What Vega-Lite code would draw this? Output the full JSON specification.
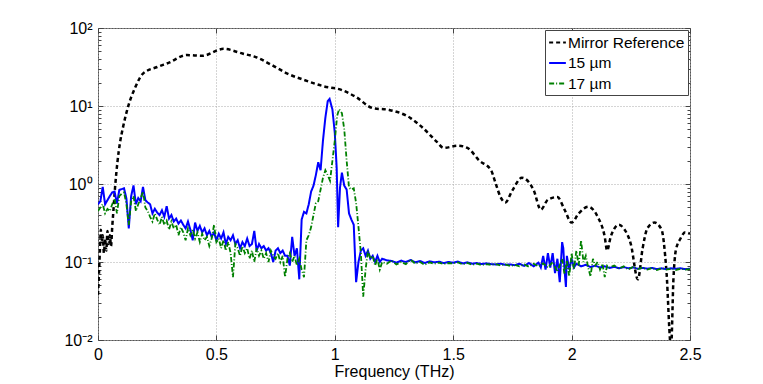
{
  "$schema": "https://vega.github.io/schema/vega-lite/v6.json",
  "width": 592,
  "height": 312,
  "autosize": {"type": "none"},
  "padding": {"left": 98, "top": 28, "right": 73, "bottom": 44},
  "background": "white",
  "config": {
    "font": "Liberation Sans",
    "view": {"stroke": "#555555", "strokeWidth": 1},
    "axis": {"labelFontSize": 16, "titleFontSize": 16, "labelColor": "black", "titleColor": "black", "titleFontWeight": "normal", "domain": false, "tickColor": "#444444", "labelFont": "Liberation Sans", "titleFont": "Liberation Sans"},
    "legend": {"labelFont": "Liberation Sans"}
  },
  "datasets": {
    "mirror": [
      {"f":0.000,"v":0.038},{"f":0.004,"v":0.07},{"f":0.008,"v":0.14},{"f":0.012,"v":0.26},{"f":0.016,"v":0.18},{"f":0.020,"v":0.22},{"f":0.025,"v":0.13},{"f":0.030,"v":0.20},{"f":0.035,"v":0.14},{"f":0.040,"v":0.25},{"f":0.045,"v":0.17},{"f":0.050,"v":0.22},{"f":0.055,"v":0.16},{"f":0.060,"v":0.28},{"f":0.065,"v":0.45},{"f":0.072,"v":0.9},{"f":0.082,"v":1.9},{"f":0.093,"v":3.4},{"f":0.106,"v":5.4},{"f":0.127,"v":9.8},{"f":0.156,"v":17},{"f":0.19,"v":26},{"f":0.25,"v":31.6},{"f":0.30,"v":36},{"f":0.375,"v":45},{"f":0.44,"v":44},{"f":0.53,"v":54},{"f":0.61,"v":47},{"f":0.67,"v":42},{"f":0.73,"v":34},{"f":0.80,"v":26},{"f":0.87,"v":21.6},{"f":0.95,"v":18},{"f":1.03,"v":16},{"f":1.09,"v":13},{"f":1.16,"v":9.4},{"f":1.23,"v":8.9},{"f":1.32,"v":7},{"f":1.37,"v":5.3},{"f":1.43,"v":3.5},{"f":1.46,"v":2.9},{"f":1.52,"v":3.1},{"f":1.56,"v":2.9},{"f":1.61,"v":2.0},{"f":1.66,"v":1.5},{"f":1.68,"v":1.0},{"f":1.70,"v":0.68},{"f":1.72,"v":0.58},{"f":1.75,"v":0.83},{"f":1.79,"v":1.2},{"f":1.84,"v":0.83},{"f":1.87,"v":0.47},{"f":1.90,"v":0.63},{"f":1.94,"v":0.68},{"f":1.97,"v":0.47},{"f":2.00,"v":0.32},{"f":2.03,"v":0.42},{"f":2.07,"v":0.51},{"f":2.11,"v":0.38},{"f":2.14,"v":0.21},{"f":2.15,"v":0.14},{"f":2.165,"v":0.21},{"f":2.20,"v":0.30},{"f":2.22,"v":0.27},{"f":2.25,"v":0.17},{"f":2.28,"v":0.06},{"f":2.30,"v":0.15},{"f":2.32,"v":0.27},{"f":2.35,"v":0.32},{"f":2.38,"v":0.26},{"f":2.40,"v":0.08},{"f":2.42,"v":0.008},{"f":2.43,"v":0.06},{"f":2.44,"v":0.14},{"f":2.46,"v":0.20},{"f":2.48,"v":0.24},{"f":2.50,"v":0.23}
    ],
    "b15": [
      {"f":0.00,"v":0.55},{"f":0.01,"v":0.60},{"f":0.02,"v":0.92},{"f":0.03,"v":0.55},{"f":0.04,"v":0.62},{"f":0.05,"v":0.70},{"f":0.06,"v":0.78},{"f":0.07,"v":0.80},{"f":0.08,"v":0.56},{"f":0.09,"v":0.84},{"f":0.10,"v":0.86},{"f":0.11,"v":0.88},{"f":0.12,"v":0.65},{"f":0.13,"v":0.27},{"f":0.14,"v":0.70},{"f":0.15,"v":0.96},{"f":0.16,"v":0.55},{"f":0.17,"v":0.66},{"f":0.18,"v":0.60},{"f":0.19,"v":0.92},{"f":0.20,"v":0.62},{"f":0.21,"v":0.58},{"f":0.22,"v":0.55},{"f":0.23,"v":0.42},{"f":0.24,"v":0.48},{"f":0.25,"v":0.43},{"f":0.26,"v":0.40},{"f":0.27,"v":0.46},{"f":0.28,"v":0.38},{"f":0.29,"v":0.52},{"f":0.30,"v":0.36},{"f":0.31,"v":0.40},{"f":0.32,"v":0.33},{"f":0.33,"v":0.36},{"f":0.34,"v":0.31},{"f":0.35,"v":0.34},{"f":0.36,"v":0.30},{"f":0.37,"v":0.27},{"f":0.38,"v":0.33},{"f":0.39,"v":0.26},{"f":0.40,"v":0.19},{"f":0.41,"v":0.32},{"f":0.42,"v":0.25},{"f":0.43,"v":0.29},{"f":0.44,"v":0.24},{"f":0.45,"v":0.27},{"f":0.46,"v":0.22},{"f":0.47,"v":0.25},{"f":0.48,"v":0.21},{"f":0.49,"v":0.24},{"f":0.50,"v":0.19},{"f":0.51,"v":0.23},{"f":0.52,"v":0.20},{"f":0.53,"v":0.24},{"f":0.54,"v":0.17},{"f":0.55,"v":0.21},{"f":0.56,"v":0.19},{"f":0.57,"v":0.22},{"f":0.58,"v":0.17},{"f":0.59,"v":0.19},{"f":0.60,"v":0.15},{"f":0.61,"v":0.18},{"f":0.62,"v":0.16},{"f":0.63,"v":0.20},{"f":0.64,"v":0.16},{"f":0.65,"v":0.17},{"f":0.66,"v":0.25},{"f":0.67,"v":0.14},{"f":0.68,"v":0.17},{"f":0.69,"v":0.15},{"f":0.70,"v":0.16},{"f":0.71,"v":0.14},{"f":0.72,"v":0.15},{"f":0.73,"v":0.13},{"f":0.74,"v":0.10},{"f":0.75,"v":0.14},{"f":0.76,"v":0.15},{"f":0.77,"v":0.13},{"f":0.78,"v":0.14},{"f":0.79,"v":0.12},{"f":0.80,"v":0.12},{"f":0.81,"v":0.09},{"f":0.82,"v":0.21},{"f":0.83,"v":0.12},{"f":0.84,"v":0.15},{"f":0.85,"v":0.06},{"f":0.86,"v":0.35},{"f":0.87,"v":0.44},{"f":0.88,"v":0.42},{"f":0.89,"v":0.55},{"f":0.90,"v":0.80},{"f":0.91,"v":0.95},{"f":0.92,"v":1.3},{"f":0.93,"v":1.9},{"f":0.94,"v":1.5},{"f":0.95,"v":3.6},{"f":0.96,"v":7.0},{"f":0.97,"v":11.5},{"f":0.978,"v":12.3},{"f":0.99,"v":9.0},{"f":1.00,"v":4.5},{"f":1.008,"v":1.6},{"f":1.014,"v":0.28},{"f":1.022,"v":0.9},{"f":1.03,"v":1.4},{"f":1.04,"v":0.95},{"f":1.05,"v":0.85},{"f":1.06,"v":0.42},{"f":1.07,"v":0.35},{"f":1.08,"v":0.30},{"f":1.09,"v":0.055},{"f":1.10,"v":0.10},{"f":1.11,"v":0.14},{"f":1.12,"v":0.15},{"f":1.13,"v":0.12},{"f":1.14,"v":0.14},{"f":1.15,"v":0.11},{"f":1.16,"v":0.12},{"f":1.17,"v":0.10},{"f":1.18,"v":0.12},{"f":1.19,"v":0.10},{"f":1.20,"v":0.11},{"f":1.22,"v":0.105},{"f":1.24,"v":0.103},{"f":1.26,"v":0.098},{"f":1.28,"v":0.104},{"f":1.30,"v":0.100},{"f":1.32,"v":0.106},{"f":1.34,"v":0.099},{"f":1.36,"v":0.103},{"f":1.38,"v":0.097},{"f":1.40,"v":0.102},{"f":1.42,"v":0.099},{"f":1.44,"v":0.101},{"f":1.46,"v":0.097},{"f":1.48,"v":0.100},{"f":1.50,"v":0.098},{"f":1.52,"v":0.101},{"f":1.54,"v":0.096},{"f":1.56,"v":0.099},{"f":1.58,"v":0.095},{"f":1.60,"v":0.097},{"f":1.62,"v":0.094},{"f":1.64,"v":0.096},{"f":1.66,"v":0.094},{"f":1.68,"v":0.093},{"f":1.70,"v":0.095},{"f":1.72,"v":0.092},{"f":1.74,"v":0.093},{"f":1.76,"v":0.091},{"f":1.78,"v":0.095},{"f":1.80,"v":0.089},{"f":1.82,"v":0.097},{"f":1.84,"v":0.088},{"f":1.86,"v":0.098},{"f":1.87,"v":0.085},{"f":1.88,"v":0.12},{"f":1.89,"v":0.08},{"f":1.90,"v":0.13},{"f":1.91,"v":0.085},{"f":1.92,"v":0.13},{"f":1.93,"v":0.072},{"f":1.94,"v":0.11},{"f":1.95,"v":0.055},{"f":1.96,"v":0.18},{"f":1.965,"v":0.15},{"f":1.97,"v":0.08},{"f":1.976,"v":0.048},{"f":1.98,"v":0.12},{"f":1.99,"v":0.08},{"f":2.00,"v":0.11},{"f":2.01,"v":0.085},{"f":2.02,"v":0.095},{"f":2.04,"v":0.088},{"f":2.06,"v":0.092},{"f":2.08,"v":0.086},{"f":2.10,"v":0.09},{"f":2.12,"v":0.085},{"f":2.14,"v":0.088},{"f":2.16,"v":0.084},{"f":2.18,"v":0.087},{"f":2.20,"v":0.083},{"f":2.22,"v":0.086},{"f":2.24,"v":0.083},{"f":2.26,"v":0.085},{"f":2.28,"v":0.082},{"f":2.30,"v":0.084},{"f":2.32,"v":0.082},{"f":2.34,"v":0.084},{"f":2.36,"v":0.081},{"f":2.38,"v":0.083},{"f":2.40,"v":0.081},{"f":2.42,"v":0.083},{"f":2.44,"v":0.082},{"f":2.46,"v":0.083},{"f":2.48,"v":0.081},{"f":2.50,"v":0.082}
    ],
    "g17": [
      {"f":0.00,"v":0.45},{"f":0.01,"v":0.50},{"f":0.02,"v":0.55},{"f":0.03,"v":0.42},{"f":0.04,"v":0.48},{"f":0.05,"v":0.45},{"f":0.06,"v":0.55},{"f":0.07,"v":0.65},{"f":0.08,"v":0.42},{"f":0.09,"v":0.70},{"f":0.10,"v":0.75},{"f":0.11,"v":0.78},{"f":0.12,"v":0.55},{"f":0.13,"v":0.30},{"f":0.14,"v":0.60},{"f":0.15,"v":0.70},{"f":0.16,"v":0.45},{"f":0.17,"v":0.55},{"f":0.18,"v":0.65},{"f":0.19,"v":0.80},{"f":0.20,"v":0.50},{"f":0.21,"v":0.45},{"f":0.22,"v":0.38},{"f":0.23,"v":0.33},{"f":0.24,"v":0.42},{"f":0.25,"v":0.35},{"f":0.26,"v":0.30},{"f":0.27,"v":0.38},{"f":0.28,"v":0.30},{"f":0.29,"v":0.34},{"f":0.30,"v":0.26},{"f":0.31,"v":0.33},{"f":0.32,"v":0.27},{"f":0.33,"v":0.30},{"f":0.34,"v":0.22},{"f":0.35,"v":0.28},{"f":0.36,"v":0.24},{"f":0.37,"v":0.19},{"f":0.38,"v":0.27},{"f":0.39,"v":0.22},{"f":0.40,"v":0.26},{"f":0.41,"v":0.20},{"f":0.42,"v":0.24},{"f":0.43,"v":0.18},{"f":0.44,"v":0.23},{"f":0.45,"v":0.19},{"f":0.46,"v":0.21},{"f":0.47,"v":0.16},{"f":0.48,"v":0.20},{"f":0.49,"v":0.30},{"f":0.50,"v":0.18},{"f":0.51,"v":0.20},{"f":0.52,"v":0.15},{"f":0.53,"v":0.19},{"f":0.54,"v":0.14},{"f":0.55,"v":0.18},{"f":0.56,"v":0.13},{"f":0.57,"v":0.064},{"f":0.58,"v":0.17},{"f":0.59,"v":0.15},{"f":0.60,"v":0.12},{"f":0.61,"v":0.16},{"f":0.62,"v":0.13},{"f":0.63,"v":0.15},{"f":0.64,"v":0.11},{"f":0.65,"v":0.14},{"f":0.66,"v":0.10},{"f":0.67,"v":0.15},{"f":0.68,"v":0.12},{"f":0.69,"v":0.14},{"f":0.70,"v":0.11},{"f":0.71,"v":0.13},{"f":0.72,"v":0.10},{"f":0.73,"v":0.14},{"f":0.74,"v":0.12},{"f":0.75,"v":0.11},{"f":0.76,"v":0.13},{"f":0.77,"v":0.10},{"f":0.78,"v":0.12},{"f":0.79,"v":0.064},{"f":0.80,"v":0.11},{"f":0.81,"v":0.13},{"f":0.82,"v":0.10},{"f":0.83,"v":0.12},{"f":0.84,"v":0.09},{"f":0.85,"v":0.11},{"f":0.86,"v":0.08},{"f":0.87,"v":0.064},{"f":0.88,"v":0.19},{"f":0.89,"v":0.22},{"f":0.90,"v":0.28},{"f":0.91,"v":0.40},{"f":0.92,"v":0.57},{"f":0.93,"v":0.60},{"f":0.94,"v":0.85},{"f":0.95,"v":1.2},{"f":0.96,"v":1.5},{"f":0.97,"v":1.3},{"f":0.98,"v":1.1},{"f":0.99,"v":2.0},{"f":1.00,"v":3.6},{"f":1.01,"v":7.5},{"f":1.018,"v":9.1},{"f":1.03,"v":8.1},{"f":1.04,"v":5.0},{"f":1.05,"v":2.0},{"f":1.06,"v":0.9},{"f":1.07,"v":0.85},{"f":1.08,"v":0.88},{"f":1.09,"v":0.57},{"f":1.10,"v":0.28},{"f":1.11,"v":0.13},{"f":1.12,"v":0.036},{"f":1.13,"v":0.08},{"f":1.14,"v":0.14},{"f":1.15,"v":0.11},{"f":1.16,"v":0.12},{"f":1.17,"v":0.09},{"f":1.18,"v":0.11},{"f":1.19,"v":0.08},{"f":1.20,"v":0.10},{"f":1.22,"v":0.095},{"f":1.24,"v":0.105},{"f":1.26,"v":0.093},{"f":1.28,"v":0.100},{"f":1.30,"v":0.094},{"f":1.32,"v":0.107},{"f":1.34,"v":0.095},{"f":1.36,"v":0.100},{"f":1.38,"v":0.092},{"f":1.40,"v":0.099},{"f":1.42,"v":0.095},{"f":1.44,"v":0.098},{"f":1.46,"v":0.094},{"f":1.48,"v":0.097},{"f":1.50,"v":0.096},{"f":1.52,"v":0.099},{"f":1.54,"v":0.093},{"f":1.56,"v":0.097},{"f":1.58,"v":0.092},{"f":1.60,"v":0.095},{"f":1.62,"v":0.091},{"f":1.64,"v":0.094},{"f":1.66,"v":0.092},{"f":1.68,"v":0.094},{"f":1.70,"v":0.090},{"f":1.72,"v":0.093},{"f":1.74,"v":0.089},{"f":1.76,"v":0.092},{"f":1.78,"v":0.088},{"f":1.80,"v":0.093},{"f":1.82,"v":0.087},{"f":1.84,"v":0.095},{"f":1.86,"v":0.088},{"f":1.88,"v":0.096},{"f":1.90,"v":0.085},{"f":1.92,"v":0.10},{"f":1.94,"v":0.075},{"f":1.96,"v":0.11},{"f":1.97,"v":0.07},{"f":1.98,"v":0.105},{"f":1.99,"v":0.065},{"f":2.00,"v":0.13},{"f":2.01,"v":0.08},{"f":2.02,"v":0.14},{"f":2.03,"v":0.09},{"f":2.04,"v":0.19},{"f":2.05,"v":0.10},{"f":2.06,"v":0.12},{"f":2.07,"v":0.085},{"f":2.08,"v":0.065},{"f":2.09,"v":0.11},{"f":2.10,"v":0.09},{"f":2.11,"v":0.10},{"f":2.12,"v":0.08},{"f":2.13,"v":0.095},{"f":2.14,"v":0.064},{"f":2.15,"v":0.09},{"f":2.16,"v":0.085},{"f":2.18,"v":0.09},{"f":2.20,"v":0.082},{"f":2.22,"v":0.088},{"f":2.24,"v":0.08},{"f":2.26,"v":0.087},{"f":2.28,"v":0.081},{"f":2.30,"v":0.085},{"f":2.32,"v":0.08},{"f":2.34,"v":0.084},{"f":2.36,"v":0.079},{"f":2.38,"v":0.083},{"f":2.40,"v":0.08},{"f":2.42,"v":0.082},{"f":2.44,"v":0.079},{"f":2.46,"v":0.082},{"f":2.48,"v":0.08},{"f":2.50,"v":0.081}
    ]
  },
  "layer": [
    {
      "data": {"name": "mirror"},
      "mark": {"type": "line", "strokeWidth": 2.5, "clip": true, "interpolate": "monotone"},
      "encoding": {
        "x": {"field": "f", "type": "quantitative", "scale": {"domain": [0, 2.5], "nice": false, "zero": false},
          "axis": {"title": "Frequency (THz)", "titlePadding": 1, "values": [0, 0.5, 1, 1.5, 2, 2.5], "format": "~g", "labelFlush": false, "tickSize": -5, "labelPadding": 11, "grid": true, "gridDash": [1, 2], "gridColor": "#aaaaaa", "labelOverlap": false}},
        "y": {"field": "v", "type": "quantitative", "scale": {"type": "log", "domain": [0.01, 100], "nice": false},
          "axis": {"title": null, "values": [0.01,0.02,0.03,0.04,0.05,0.06,0.07,0.08,0.09,0.1,0.2,0.3,0.4,0.5,0.6,0.7,0.8,0.9,1,2,3,4,5,6,7,8,9,10,20,30,40,50,60,70,80,90,100],
            "labelExpr": "datum.value == 100 ? '10²' : datum.value == 10 ? '10¹' : datum.value == 1 ? '10⁰' : datum.value == 0.1 ? '10⁻¹' : datum.value == 0.01 ? '10⁻²' : ''",
            "labelOverlap": false, "labelFlush": false,
            "tickSize": {"condition": {"test": "indexof([0.01,0.1,1,10,100], datum.value) >= 0", "value": -5}, "value": -3},
            "labelPadding": 11,
            "grid": true, "gridDash": [1, 2], "gridColor": "#aaaaaa",
            "gridOpacity": {"condition": {"test": "indexof([0.01,0.1,1,10,100], datum.value) >= 0", "value": 1}, "value": 0}}},
        "color": {"datum": "Mirror Reference", "type": "nominal",
          "scale": {"domain": ["Mirror Reference", "15 µm", "17 µm"], "range": ["#000000", "#0000ff", "#008000"]},
          "legend": {"title": null, "orient": "top-right", "offset": 2, "strokeColor": "#444444", "fillColor": "white", "padding": 3, "labelFontSize": 15.5, "labelColor": "black", "symbolType": "stroke", "symbolSize": 280, "symbolStrokeWidth": 2, "labelOffset": 1, "rowPadding": 2.5}},
        "strokeDash": {"datum": "Mirror Reference", "type": "nominal",
          "scale": {"domain": ["Mirror Reference", "15 µm", "17 µm"], "range": [[4, 3], [1, 0], [5, 2, 1, 2]]},
          "legend": {"title": null}}
      }
    },
    {
      "data": {"name": "b15"},
      "mark": {"type": "line", "strokeWidth": 2, "clip": true},
      "encoding": {
        "x": {"field": "f", "type": "quantitative", "axis": {"orient": "top", "labels": false, "title": null, "values": [0, 0.5, 1, 1.5, 2, 2.5], "tickSize": -5, "grid": false}},
        "y": {"field": "v", "type": "quantitative",
          "axis": {"orient": "right", "labels": false, "title": null, "grid": false, "values": [0.01,0.02,0.03,0.04,0.05,0.06,0.07,0.08,0.09,0.1,0.2,0.3,0.4,0.5,0.6,0.7,0.8,0.9,1,2,3,4,5,6,7,8,9,10,20,30,40,50,60,70,80,90,100],
            "tickSize": {"condition": {"test": "indexof([0.01,0.1,1,10,100], datum.value) >= 0", "value": -5}, "value": -3}}},
        "color": {"datum": "15 µm", "type": "nominal"},
        "strokeDash": {"datum": "15 µm", "type": "nominal"}
      }
    },
    {
      "data": {"name": "g17"},
      "mark": {"type": "line", "strokeWidth": 1.8, "clip": true},
      "encoding": {
        "x": {"field": "f", "type": "quantitative", "axis": null},
        "y": {"field": "v", "type": "quantitative", "axis": null},
        "color": {"datum": "17 µm", "type": "nominal"},
        "strokeDash": {"datum": "17 µm", "type": "nominal"}
      }
    }
  ],
  "resolve": {"axis": {"x": "independent", "y": "independent"}}
}
